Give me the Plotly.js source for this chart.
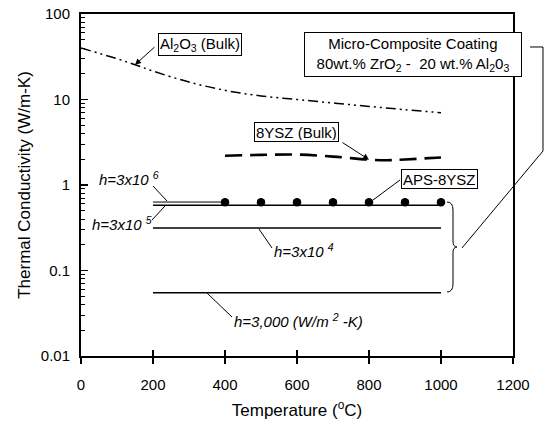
<!DOCTYPE html>
<html><head><meta charset="utf-8">
<script src="https://cdn.plot.ly/plotly-3.0.1.min.js"></script>
<style>html,body{margin:0;padding:0;background:#fff}#chart{width:545px;height:424px}</style>
</head><body><div id="chart"></div>
<script>
// ---- data ----
const tempAl2O3 = [0, 100, 150, 200, 300, 400, 500, 600, 700, 800, 900, 1000];
const kAl2O3    = [40, 30, 25.5, 21.5, 16, 12.8, 11, 10, 9.1, 8.3, 7.6, 7.0];
const temp8YSZ  = [400, 500, 600, 700, 800, 850, 900, 1000];
const k8YSZ     = [2.2, 2.25, 2.27, 2.15, 1.98, 1.95, 1.99, 2.1];
const tempAPS   = [400, 500, 600, 700, 800, 900, 1000];
const kAPS      = [0.63, 0.63, 0.63, 0.63, 0.63, 0.63, 0.63];
const tempH6    = [200, 400];
const kH6       = [0.632, 0.632];
const tempH     = [200, 1000];
const kH5       = [0.58, 0.58];
const kH4       = [0.314, 0.314];
const kH3       = [0.055, 0.055];
const xTicks    = [0, 200, 400, 600, 800, 1000, 1200];
const yTicks    = [0.01, 0.1, 1, 10, 100];
const yTickText = ['0.01', '0.1', '1', '10', '100'];

// ---- geometry helpers (pixel -> paper) for decorations ----
const L = 81, T = 14, W = 432, H = 342;
const px = x => (x - L) / W;
const py = y => (T + H - y) / H;
const FONT = 'Liberation Sans, Arial, sans-serif';

const line = (x, y, extra) => Object.assign({
  x, y, mode: 'lines', type: 'scatter', showlegend: false, hoverinfo: 'skip',
  line: {color: 'black', width: 1.5}
}, extra || {});

const traces = [
  line(tempAl2O3, kAl2O3, {line: {color: 'black', width: 1.5, dash: '10px,4px,2px,4px,2px,4px', shape: 'spline'}}),
  line(temp8YSZ, k8YSZ, {line: {color: 'black', width: 2.6, dash: '17px,8px', shape: 'spline'}}),
  line(tempH6, kH6, {line: {color: 'black', width: 1}}),
  line(tempH, kH5, {line: {color: 'black', width: 1.4}}),
  line(tempH, kH4, {line: {color: 'black', width: 1.5}}),
  line(tempH, kH3, {line: {color: 'black', width: 1.5}}),
  {x: tempAPS, y: kAPS, mode: 'markers', type: 'scatter', showlegend: false, hoverinfo: 'skip',
   marker: {color: 'black', size: 8.5}},
  {x: [null], y: [null], xaxis: 'x2', yaxis: 'y', mode: 'markers', showlegend: false, hoverinfo: 'skip'}
];

const boxAnn = (text, cx, cy, extra) => Object.assign({
  xref: 'paper', yref: 'paper', x: px(cx), y: py(cy), text, showarrow: false,
  font: {family: FONT, size: 15, color: 'black'},
  bordercolor: 'black', borderwidth: 1, borderpad: 1, bgcolor: 'white',
  xanchor: 'center', yanchor: 'middle'
}, extra || {});
const txtAnn = (text, cx, cy) => ({
  xref: 'paper', yref: 'paper', x: px(cx), y: py(cy), text, showarrow: false,
  font: {family: FONT, size: 15, color: 'black'}, xanchor: 'center', yanchor: 'middle'
});
const arrowAnn = (xd, yd, ax, ay) => ({
  xref: 'x', yref: 'y', x: xd, y: Math.log10(yd), text: '', showarrow: true,
  arrowhead: 2, arrowsize: 1.2, arrowwidth: 1, arrowcolor: 'black', ax, ay, standoff: 0
});

const annotations = [
  boxAnn('Al<sub>2</sub>O<sub>3</sub> (Bulk)', 200, 44),
  boxAnn('8YSZ (Bulk)', 296.5, 131.5, {height: 16}),
  boxAnn('APS-8YSZ', 439, 178.5, {height: 16}),
  boxAnn('Micro-Composite Coating<br>80wt.% ZrO<sub>2</sub> -  20 wt.% Al<sub>2</sub>0<sub>3</sub>', 413, 55, {width: 212, borderpad: 2}),
  txtAnn('<i>h=3x10 </i><sup><i>6</i></sup>', 129, 179),
  txtAnn('<i>h=3x10 </i><sup><i>5</i></sup>', 122, 223),
  txtAnn('<i>h=3x10 </i><sup><i>4</i></sup>', 304, 250),
  txtAnn('<i>h=3,000 (W/m </i><sup><i>2</i></sup><i> -K)</i>', 298, 320),
  arrowAnn(tempAl2O3[2], kAl2O3[2], 21, -19),
  arrowAnn(temp8YSZ[4], k8YSZ[4], -28, -18)
];

const seg = (x0, y0, x1, y1) => ({type: 'line', xref: 'paper', yref: 'paper',
  x0: px(x0), y0: py(y0), x1: px(x1), y1: py(y1), line: {color: 'black', width: 1}});
const P = (x, y) => px(x).toFixed(5) + ',' + py(y).toFixed(5);
const bracePath = 'M' + P(447, 202) + ' Q' + P(453, 202) + ' ' + P(453, 210) +
  ' L' + P(453, 241) + ' Q' + P(453, 247) + ' ' + P(457, 247) +
  ' Q' + P(453, 247) + ' ' + P(453, 253) + ' L' + P(453, 284) +
  ' Q' + P(453, 292) + ' ' + P(447, 292);
const bracketPath = 'M' + P(530, 47) + ' L' + P(543, 47) + ' L' + P(543, 151) + ' L' + P(462, 248);

const shapes = [
  seg(153, 186, 167, 201),
  seg(152, 220, 165, 206),
  seg(259, 229, 272, 248),
  seg(207, 293, 232, 317),
  seg(400, 180, 373, 200),
  {type: 'path', xref: 'paper', yref: 'paper', path: bracePath, line: {color: 'black', width: 1}},
  {type: 'path', xref: 'paper', yref: 'paper', path: bracketPath, line: {color: 'black', width: 1}}
];

const layout = {
  width: 545, height: 424,
  margin: {l: L, r: 545 - L - W, t: T, b: 424 - T - H},
  paper_bgcolor: 'white', plot_bgcolor: 'white',
  font: {family: FONT, size: 15, color: 'black'},
  showlegend: false,
  xaxis: {
    range: [0, 1200], tickvals: xTicks, ticks: 'outside', ticklen: 6, tickwidth: 1.2, tickcolor: 'black',
    showline: true, linewidth: 2, linecolor: 'black', mirror: true, showgrid: false, zeroline: false,
    ticklabelstandoff: 8, tickfont: {family: FONT, size: 15},
    title: {text: 'Temperature (<sup>o</sup>C)', font: {family: FONT, size: 17}, standoff: 12}
  },
  xaxis2: {
    range: [0, 1200], overlaying: 'x', anchor: 'y', side: 'bottom', tickvals: xTicks,
    ticks: 'inside', ticklen: 6, tickwidth: 1.2, tickcolor: 'black', showticklabels: false,
    showline: false, showgrid: false, zeroline: false
  },
  yaxis: {
    type: 'log', range: [-2, 2], tickvals: yTicks, ticktext: yTickText,
    ticks: 'inside', ticklen: 7, tickwidth: 1.2, tickcolor: 'black',
    minor: {ticks: 'inside', ticklen: 4, tickwidth: 1, tickcolor: 'black', dtick: 'D1', showgrid: false},
    showline: true, linewidth: 2, linecolor: 'black', mirror: true, showgrid: false, zeroline: false,
    ticklabelstandoff: 6, tickfont: {family: FONT, size: 15},
    title: {text: 'Thermal Conductivity (W/m-K)', font: {family: FONT, size: 17}, standoff: 6}
  },
  annotations, shapes
};

Plotly.newPlot('chart', traces, layout, {staticPlot: true, displayModeBar: false});
</script></body></html>
